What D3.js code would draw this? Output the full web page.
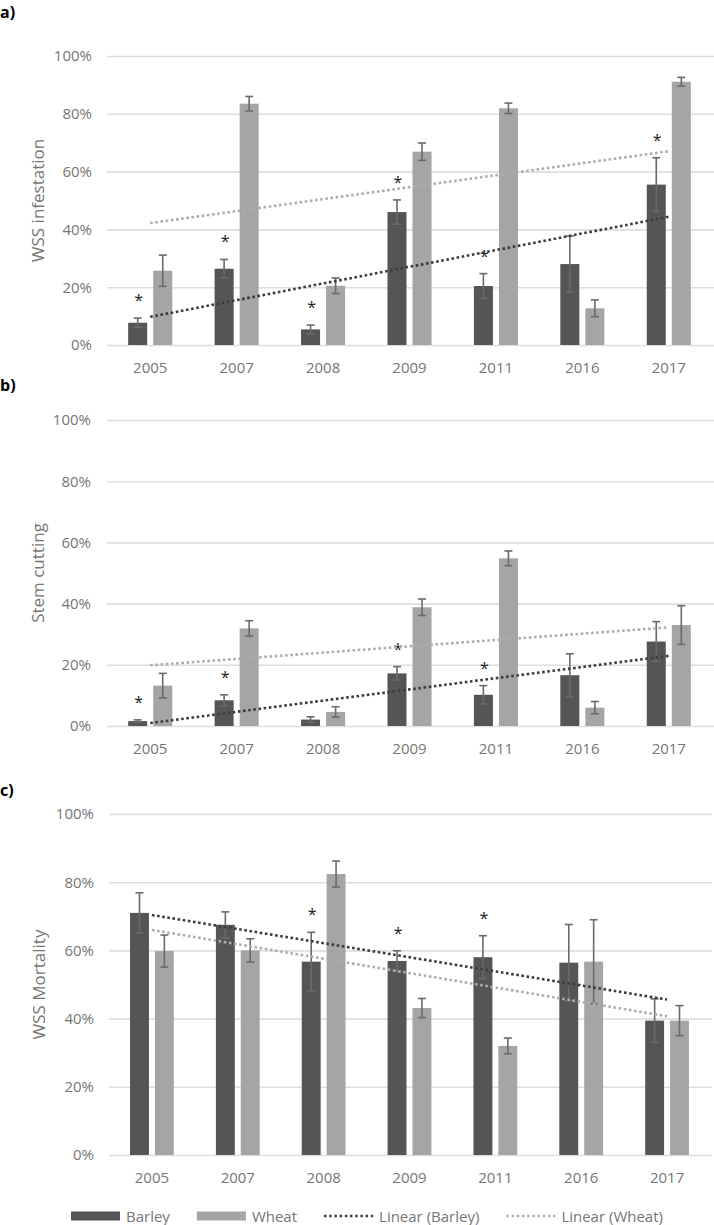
<!DOCTYPE html>
<html>
<head>
<meta charset="utf-8">
<script src="https://cdn.jsdelivr.net/npm/d3@7/dist/d3.min.js"></script>
<style>
  html, body { margin: 0; padding: 0; background: #fff; }
  svg { display: block; font-family: "Open Sans", "Noto Sans", sans-serif; }
</style>
</head>
<body>
<svg id="chart" width="714" height="1225"></svg>
<script>
// ---------- data ----------
const years = ["2005", "2007", "2008", "2009", "2011", "2016", "2017"];
const series = ["Barley", "Wheat"];
const yTicks = [0, 20, 40, 60, 80, 100];

// a) WSS infestation (%)
const infestBarley    = [7.7, 26.4, 5.4, 46.0, 20.4, 28.0, 55.5];
const infestBarleyErr = [1.6, 3.2, 1.5, 4.2, 4.3, 9.7, 9.3];
const infestWheat     = [25.7, 83.5, 20.5, 66.9, 81.9, 12.7, 91.1];
const infestWheatErr  = [5.4, 2.5, 2.7, 3.0, 1.8, 2.9, 1.5];
const infestSig       = [true, true, true, true, true, false, true];

// b) Stem cutting (%)
const stemBarley    = [1.6, 8.4, 2.1, 17.2, 10.2, 16.6, 27.6];
const stemBarleyErr = [0.4, 1.8, 0.9, 2.2, 3.0, 7.0, 6.5];
const stemWheat     = [13.2, 31.9, 4.6, 38.8, 54.8, 6.0, 33.0];
const stemWheatErr  = [4.0, 2.5, 1.7, 2.7, 2.4, 2.0, 6.3];
const stemSig       = [true, true, false, true, true, false, false];

// c) WSS Mortality (%)
const mortBarley    = [71.0, 67.5, 56.7, 56.9, 58.0, 56.4, 39.4];
const mortBarleyErr = [5.9, 3.8, 8.6, 3.0, 6.3, 11.2, 6.4];
const mortWheat     = [59.8, 60.0, 82.4, 43.1, 32.0, 56.7, 39.4];
const mortWheatErr  = [4.7, 3.4, 3.8, 2.8, 2.3, 12.3, 4.4];
const mortSig       = [false, false, true, true, true, false, false];

const legendLabels = ["Barley", "Wheat", "Linear (Barley)", "Linear (Wheat)"];

// ---------- styles ----------
const colBarley = "#555557";
const colWheat = "#a5a5a5";
const colTrendBarley = "#3c3c3c";
const colTrendWheat = "#adadad";
const colErr = "#6a6a6a";
const colText = "#767676";
const colGrid = "#dedede";

const svg = d3.select("#chart");

function linFit(vals) {
  const n = vals.length;
  const xs = vals.map((_, i) => i + 1);
  const mx = d3.mean(xs), my = d3.mean(vals);
  let sxy = 0, sxx = 0;
  vals.forEach((v, i) => { sxy += (xs[i] - mx) * (v - my); sxx += (xs[i] - mx) ** 2; });
  const b = sxy / sxx, a = my - b * mx;
  return [a + b * 1, a + b * n];
}

function panel(cfg) {
  const g = svg.append("g");
  const x = d3.scaleBand().domain(years).range([cfg.x0, cfg.x1])
    .paddingInner(0.49).paddingOuter(0.245);
  const xi = d3.scaleBand().domain(series).range([0, x.bandwidth()]).paddingInner(0.24);
  const y = d3.scaleLinear().domain([0, 100]).range([cfg.yb, cfg.yt]);

  // gridlines + y labels
  const ya = g.append("g").attr("transform", `translate(${cfg.x0},0)`)
    .call(d3.axisLeft(y).tickValues(yTicks).tickFormat(d => d + "%")
      .tickSize(-(cfg.x1 - cfg.x0 + 2)).tickPadding(cfg.pad));
  ya.select(".domain").remove();
  ya.selectAll(".tick line").attr("stroke", colGrid).attr("stroke-width", 1.6);
  ya.selectAll(".tick text").attr("fill", colText).attr("font-size", 15)
    .attr("font-family", "'Open Sans', sans-serif");

  // x labels
  const xa = g.append("g").attr("transform", `translate(0,${cfg.yb})`)
    .call(d3.axisBottom(x).tickSize(0).tickPadding(17));
  xa.select(".domain").remove();
  xa.selectAll(".tick text").attr("fill", colText).attr("font-size", 15)
    .attr("font-family", "'Open Sans', sans-serif");

  // title
  g.append("text")
    .attr("transform", `translate(${cfg.titleX},${(cfg.yt + cfg.yb) / 2}) rotate(-90)`)
    .attr("text-anchor", "middle").attr("dominant-baseline", "central")
    .attr("fill", colText).attr("font-size", 17).text(cfg.title);

  // panel label
  g.append("text").attr("x", 0).attr("y", cfg.labelY)
    .attr("dominant-baseline", "central")
    .attr("font-weight", "bold").attr("font-size", 16).attr("fill", "#000")
    .text(cfg.label);

  const sets = [
    { key: "Barley", vals: cfg.barley, errs: cfg.barleyErr, col: colBarley },
    { key: "Wheat", vals: cfg.wheat, errs: cfg.wheatErr, col: colWheat }
  ];

  sets.forEach(s => {
    const bx = i => x(years[i]) + xi(s.key);
    g.append("g").selectAll("rect").data(s.vals).join("rect")
      .attr("x", (d, i) => bx(i)).attr("width", xi.bandwidth())
      .attr("y", d => y(d)).attr("height", d => y(0) - y(d))
      .attr("fill", s.col);
    const eg = g.append("g").attr("stroke", colErr).attr("stroke-width", 1.6).attr("fill", "none");
    s.vals.forEach((v, i) => {
      const cx = bx(i) + xi.bandwidth() / 2;
      const lo = Math.max(0, v - s.errs[i]), hi = v + s.errs[i];
      eg.append("line").attr("x1", cx).attr("x2", cx).attr("y1", y(lo)).attr("y2", y(hi));
      eg.append("line").attr("x1", cx - 4).attr("x2", cx + 4).attr("y1", y(hi)).attr("y2", y(hi));
      eg.append("line").attr("x1", cx - 4).attr("x2", cx + 4).attr("y1", y(lo)).attr("y2", y(lo));
    });
  });

  // significance asterisks over barley
  cfg.sig.forEach((s, i) => {
    if (!s) return;
    const cx = x(years[i]) + xi("Barley") + xi.bandwidth() / 2;
    const top = y(cfg.barley[i] + cfg.barleyErr[i]);
    g.append("text").attr("x", cx + 1).attr("y", top - 21 + 9)
      .attr("text-anchor", "middle").attr("font-size", 16)
      .attr("fill", "#1a1a1a").text("*");
  });

  // trend lines
  const xc = i => x(years[i]) + x.bandwidth() / 2;
  [[cfg.wheat, colTrendWheat], [cfg.barley, colTrendBarley]].forEach(([vals, col]) => {
    const [s, e] = linFit(vals);
    g.append("line")
      .attr("x1", xc(0)).attr("y1", y(s))
      .attr("x2", xc(vals.length - 1)).attr("y2", y(e))
      .attr("stroke", col).attr("stroke-width", 2.6).attr("stroke-dasharray", "2.6,2.6");
  });
}

panel({ label: "a)", labelY: 12, title: "WSS infestation", titleX: 37,
  x0: 107, x1: 712, yt: 56, yb: 345, pad: 15,
  barley: infestBarley, barleyErr: infestBarleyErr, wheat: infestWheat, wheatErr: infestWheatErr, sig: infestSig });

panel({ label: "b)", labelY: 385, title: "Stem cutting", titleX: 37,
  x0: 107, x1: 712, yt: 420, yb: 726, pad: 16,
  barley: stemBarley, barleyErr: stemBarleyErr, wheat: stemWheat, wheatErr: stemWheatErr, sig: stemSig });

panel({ label: "c)", labelY: 790, title: "WSS Mortality", titleX: 38,
  x0: 109, x1: 710, yt: 814, yb: 1155, pad: 15,
  barley: mortBarley, barleyErr: mortBarleyErr, wheat: mortWheat, wheatErr: mortWheatErr, sig: mortSig });

// ---------- legend ----------
const lg = svg.append("g").attr("transform", "translate(0,1216)");
let lx = 71;
legendLabels.forEach((lab, i) => {
  const sw = 49;
  if (i < 2) {
    lg.append("rect").attr("x", lx).attr("y", -4.5).attr("width", sw).attr("height", 9)
      .attr("fill", i === 0 ? colBarley : colWheat);
  } else {
    lg.append("line").attr("x1", lx).attr("x2", lx + sw).attr("y1", 0).attr("y2", 0)
      .attr("stroke", i === 2 ? colTrendBarley : colTrendWheat)
      .attr("stroke-width", 2.4).attr("stroke-dasharray", "2.4,2.8");
  }
  const t = lg.append("text").attr("x", lx + sw + 6).attr("y", 0)
    .attr("dominant-baseline", "central").attr("font-size", 15).attr("fill", colText).text(lab);
  lx = lx + sw + 6 + t.node().getComputedTextLength() + 27;
});
</script>
</body>
</html>
